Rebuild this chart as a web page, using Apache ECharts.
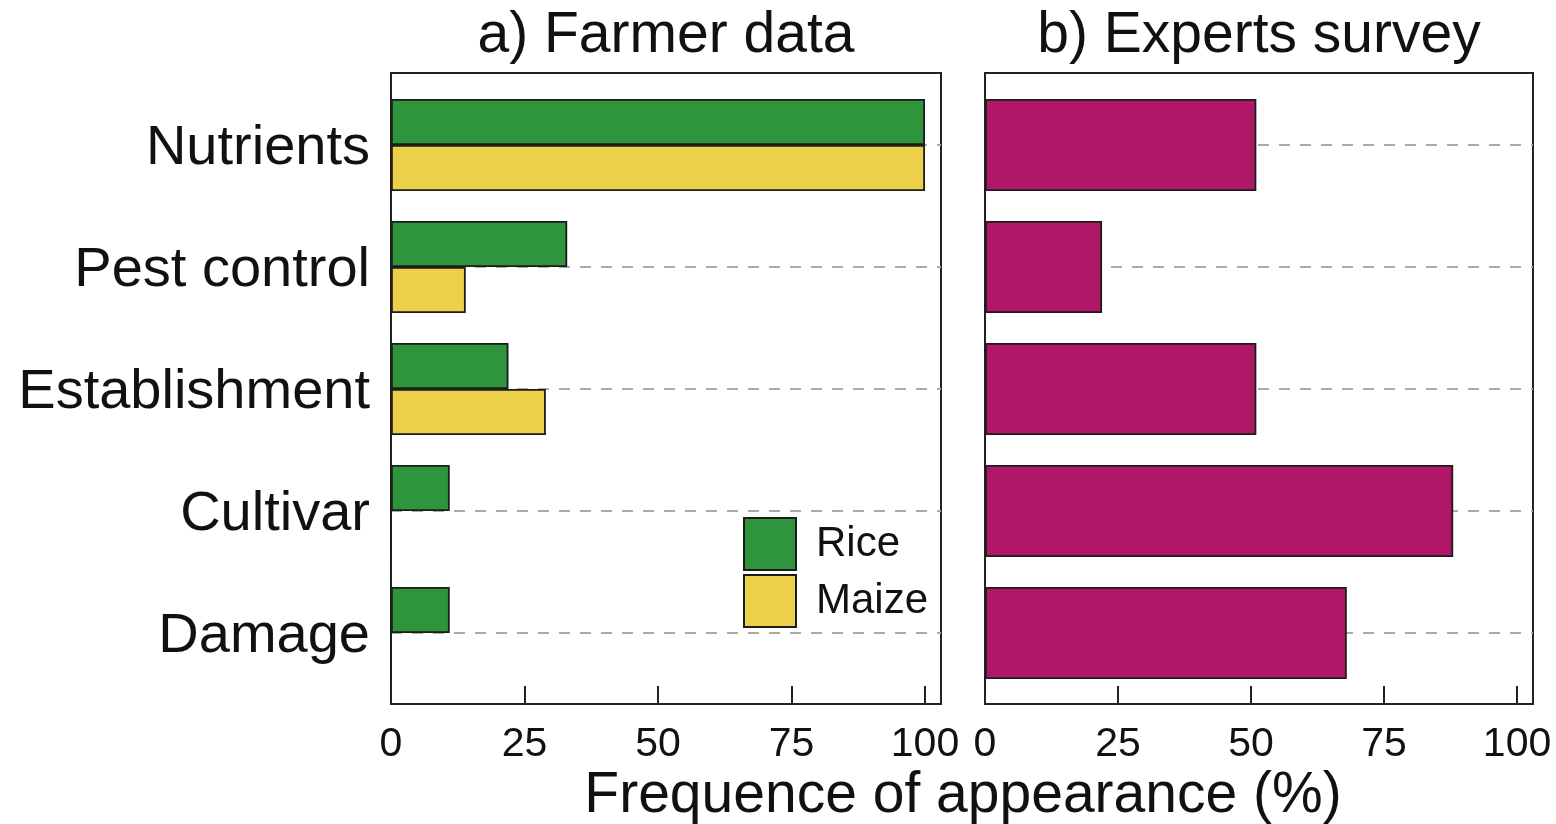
<!DOCTYPE html>
<html>
<head>
<meta charset="utf-8">
<title>Frequence of appearance</title>
<script src="https://cdn.jsdelivr.net/npm/echarts@6/dist/echarts.min.js"></script>
<style>
  html, body { margin: 0; padding: 0; background: #fff; }
  #chart { width: 1556px; height: 824px; }
</style>
</head>
<body>
<div id="chart"></div>
<script>
// Yield-gap factors and how often they appear in each source (%)
const categories = ['Nutrients', 'Pest control', 'Establishment', 'Cultivar', 'Damage'];
const riceValues = [100, 33, 22, 11, 11];
const maizeValues = [100, 14, 29, 0, 0];
const expertValues = [51, 22, 51, 88, 68];

const panelTitles = ['a) Farmer data', 'b) Experts survey'];
const axisTitle = 'Frequence of appearance (%)';
const xMin = 0, xMax = 103, xStep = 25;

const FONT = '"Liberation Sans", Arial, Helvetica, sans-serif';
const GREEN = '#2e953d';
const YELLOW = '#ecd049';
const MAGENTA = '#b11767';
const EDGE = '#1c1c1c';

const chart = echarts.init(document.getElementById('chart'));

// Panel frames (box + ticks) and the inner data areas
const frameLeft = { left: 391, right: 615, top: 73, height: 631 };
const frameRight = { left: 985, right: 23, top: 73, height: 631 };
const dataLeft = { left: 391, right: 615, top: 145, height: 488 };
const dataRight = { left: 985, right: 23, top: 145, height: 488 };

function frameGrid(g) {
  return Object.assign({ show: true, borderColor: '#222', borderWidth: 2, backgroundColor: 'transparent' }, g);
}
function dataGrid(g) {
  return Object.assign({ show: false }, g);
}

function frameXAxis(gridIndex) {
  return {
    type: 'value', gridIndex, min: xMin, max: xMax, interval: xStep,
    axisLine: { show: false },
    axisTick: { show: true, inside: true, length: 18, lineStyle: { color: '#222', width: 2 } },
    axisLabel: { show: true, showMaxLabel: false, margin: 20, fontSize: 41, color: '#111', fontFamily: FONT },
    splitLine: { show: false }
  };
}
function hiddenXAxis(gridIndex) {
  return { type: 'value', gridIndex, min: xMin, max: xMax, interval: xStep, show: false };
}
function categoryAxis(gridIndex, showLabels) {
  return {
    type: 'category', gridIndex, data: categories, inverse: true, boundaryGap: false,
    axisLine: { show: false },
    axisTick: { show: false },
    axisLabel: {
      show: showLabels, margin: 21, color: '#111',
      formatter: '{c|{value}}',
      rich: { c: { fontSize: 56, color: '#111', fontFamily: FONT, padding: [8, 0, 0, 0] } }
    },
    splitLine: { show: true, lineStyle: { color: '#aaaaaa', width: 2, type: [11, 10] } }
  };
}

const barEdge = { borderColor: EDGE, borderWidth: 1.8 };

chart.setOption({
  backgroundColor: '#fff',
  animation: false,
  textStyle: { fontFamily: FONT },
  grid: [frameGrid(frameLeft), dataGrid(dataLeft), frameGrid(frameRight), dataGrid(dataRight)],
  xAxis: [frameXAxis(0), hiddenXAxis(1), frameXAxis(2), hiddenXAxis(3)],
  yAxis: [
    { type: 'value', gridIndex: 0, show: false, min: 0, max: 1 },
    categoryAxis(1, true),
    { type: 'value', gridIndex: 2, show: false, min: 0, max: 1 },
    categoryAxis(3, false)
  ],
  legend: {
    data: ['Rice', 'Maize'],
    orient: 'vertical',
    left: 743, top: 517,
    padding: 0,
    icon: 'rect',
    itemWidth: 52, itemHeight: 52, itemGap: 3,
    textStyle: { fontSize: 42, color: '#111', fontFamily: FONT, padding: [4, 0, 0, 15] },
    itemStyle: { borderColor: EDGE, borderWidth: 2 }
  },
  graphic: [
    { type: 'text', x: 666, y: 36, style: { text: panelTitles[0], font: '57px ' + FONT, fill: '#111', textAlign: 'center', textVerticalAlign: 'middle' } },
    { type: 'text', x: 1259, y: 36, style: { text: panelTitles[1], font: '57px ' + FONT, fill: '#111', textAlign: 'center', textVerticalAlign: 'middle' } },
    { type: 'text', x: 963, y: 796, style: { text: axisTitle, font: '57px ' + FONT, fill: '#111', textAlign: 'center', textVerticalAlign: 'middle' } }
  ],
  series: [
    {
      name: 'Rice', type: 'bar', xAxisIndex: 1, yAxisIndex: 1, data: riceValues,
      barWidth: 46, barGap: '0%', clip: false,
      itemStyle: Object.assign({ color: GREEN }, barEdge)
    },
    {
      name: 'Maize', type: 'bar', xAxisIndex: 1, yAxisIndex: 1, data: maizeValues,
      barWidth: 46, barGap: '0%', clip: false,
      itemStyle: Object.assign({ color: YELLOW }, barEdge)
    },
    {
      name: 'Experts', type: 'bar', xAxisIndex: 3, yAxisIndex: 3, data: expertValues,
      barWidth: 92, clip: false,
      itemStyle: Object.assign({ color: MAGENTA }, barEdge)
    }
  ]
});
</script>
</body>
</html>
